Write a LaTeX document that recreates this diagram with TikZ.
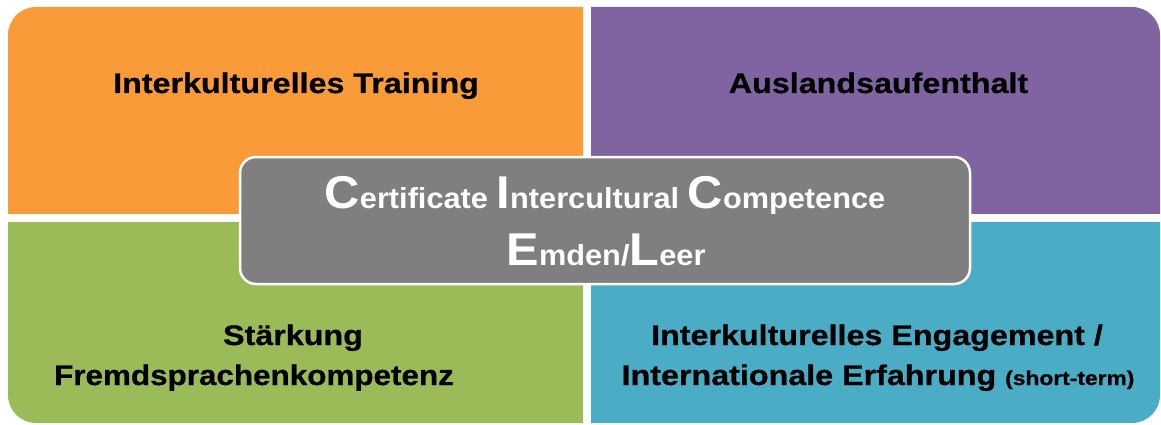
\documentclass[tikz,border=0pt]{standalone}
\usepackage{fontspec}
\usepackage{graphicx}
\setmainfont{Liberation Sans}[BoldFeatures={FakeBold=0.6}]
\newfontfamily\ctrfont{Liberation Sans Bold}
\definecolor{qorange}{HTML}{F99B38}
\definecolor{qpurple}{HTML}{8064A2}
\definecolor{qgreen}{HTML}{9BBB59}
\definecolor{qcyan}{HTML}{4BACC6}
\definecolor{qgray}{HTML}{7F7F7F}
\newcommand{\wide}[1]{\scalebox{1.14}[1]{#1}}
\newcommand{\cwide}[1]{\scalebox{1.06}[1]{#1}}
\newcommand{\BL}[1]{{\fontsize{46}{46}\selectfont #1}}
\begin{document}
\begin{tikzpicture}[x=1pt,y=-1pt,
  lbl/.style={font=\fontsize{28.3}{30}\selectfont\bfseries, text=black, inner sep=0pt, anchor=base},
  ctxt/.style={font=\ctrfont\fontsize{29}{32}\selectfont, text=white, inner sep=0pt, anchor=base},
  quad/.style={rounded corners=28pt}]
\useasboundingbox (0,0) rectangle (1161,425);
% quadrants
\begin{scope}
\clip (8,7) rectangle (583,213);
\fill[qorange, quad] (8,7) rectangle (700,400);
\end{scope}
\begin{scope}
\clip (591,7) rectangle (1160,213);
\fill[qpurple, quad] (400,7) rectangle (1160,400);
\end{scope}
\begin{scope}
\clip (8,222) rectangle (583,423);
\fill[qgreen, quad] (8,0) rectangle (700,423);
\end{scope}
\begin{scope}
\clip (591,222) rectangle (1160,423);
\fill[qcyan, quad] (400,0) rectangle (1160,423);
\end{scope}
% labels
\node[lbl] (t1) at (296,93) {\wide{Interkulturelles Training}};
\node[lbl] (t2) at (878.5,93) {\wide{Auslandsaufenthalt}};
\node[lbl] (t3a) at (293,345) {\wide{Stärkung}};
\node[lbl] (t3b) at (254,385) {\scalebox{1.11}[1]{Fremdsprachenkompetenz}};
\node[lbl] (t4a) at (877,345) {\wide{Interkulturelles Engagement /}};
\node[lbl] (t4b) at (878,385) {\wide{Internationale Erfahrung {\fontsize{20}{22}\selectfont (short-term)}}};
% centre box
\node[draw=white, line width=2.5pt, fill=qgray, rounded corners=16pt,
      minimum width=730pt, minimum height=127pt, inner sep=0pt] (cic) at (605,220.5) {};
\node[ctxt] (c1) at (605,208) {\cwide{\BL{C}ertificate \BL{I}ntercultural \BL{C}ompetence}};
\node[ctxt] (c2) at (606,265) {\cwide{\BL{E}mden/\BL{L}eer}};
\end{tikzpicture}
\end{document}
